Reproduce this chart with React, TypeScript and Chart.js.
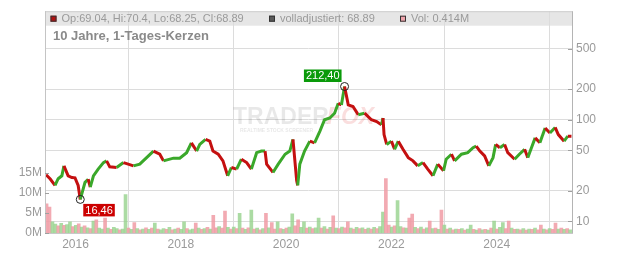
import { useEffect, useRef } from 'react';
import { Chart, registerables } from 'chart.js';
Chart.register(...registerables);

const FONT = "'Liberation Sans', Arial, sans-serif";

// Price (daily close, read at irregular dates, decimal years)
const priceDates = [
  2015.44, 2015.52, 2015.61, 2015.67, 2015.74, 2015.78, 2015.86, 2015.93, 2015.99, 2016.05,
  2016.09, 2016.18, 2016.24, 2016.28, 2016.34, 2016.43, 2016.53, 2016.59, 2016.65, 2016.78,
  2016.91, 2017.0, 2017.1, 2017.22, 2017.35, 2017.48, 2017.6, 2017.67, 2017.86, 2017.98,
  2018.11, 2018.2, 2018.3, 2018.36, 2018.47, 2018.55, 2018.61, 2018.71, 2018.8, 2018.89,
  2018.96, 2019.06, 2019.15, 2019.25, 2019.34, 2019.44, 2019.53, 2019.6, 2019.63, 2019.75,
  2019.85, 2019.98, 2020.07, 2020.13, 2020.2, 2020.22, 2020.26, 2020.35, 2020.45, 2020.54,
  2020.64, 2020.73, 2020.83, 2020.92, 2020.99, 2021.05, 2021.11, 2021.18, 2021.27, 2021.37,
  2021.49, 2021.62, 2021.72, 2021.81, 2021.84, 2021.86, 2021.91, 2022.0, 2022.06, 2022.13,
  2022.22, 2022.32, 2022.41, 2022.5, 2022.6, 2022.69, 2022.79, 2022.88, 2022.99, 2023.04,
  2023.14, 2023.2, 2023.33, 2023.45, 2023.55, 2023.61, 2023.68, 2023.77, 2023.85, 2023.93,
  2023.98, 2024.06, 2024.15, 2024.21, 2024.34, 2024.43, 2024.53, 2024.59, 2024.66, 2024.73,
  2024.82, 2024.92, 2025.01, 2025.11, 2025.17, 2025.28, 2025.35, 2025.42,
];
const closes = [
  28.8, 26.1, 22.6, 26.3, 28.1, 35.2, 28.1, 27.0, 26.8, 22.6,
  16.46, 24.2, 26.0, 21.7, 28.1, 32.7, 37.9, 39.4, 34.4, 33.9,
  37.9, 36.6, 35.2, 36.6, 42.4, 49.2, 45.8, 39.4, 41.9, 41.9,
  47.4, 59.3, 49.2, 57.2, 64.0, 61.6, 49.2, 45.8, 39.4, 28.1,
  33.9, 32.7, 40.9, 37.9, 32.7, 47.4, 49.2, 49.2, 36.6, 30.3,
  36.6, 45.8, 49.2, 64.0, 25.2, 22.6, 36.6, 49.2, 61.6, 59.3,
  77.0, 100, 104, 116, 145, 140, 212.4, 140, 135, 112,
  116, 100, 96, 89, 104, 71.5, 57.2, 61.6, 51.2, 61.6,
  51.2, 42.4, 39.4, 35.2, 37.9, 32.7, 28.1, 36.6, 31.5, 40.9,
  45.8, 39.4, 45.8, 47.4, 53.0, 55.0, 49.2, 44.1, 35.2, 42.4,
  57.2, 53.0, 57.2, 47.4, 40.9, 45.8, 51.2, 42.4, 53.0, 66.3,
  59.3, 82.8, 74.0, 84.0, 71.5, 61.6, 68.9, 68.89,
];

// Volume in millions, sampled every 1/18 year from mid-2015
const volStart = 2015.45;
const volStep = 1 / 18;
const volumes = [
  7.3, 6.5, 2.8, 2.2, 1.8, 2.4, 1.9, 2.1, 2.8, 1.6,
  1.9, 2.3, 1.5, 1.8, 1.3, 1.1, 3.0, 3.3, 1.2, 1.0,
  3.7, 1.2, 0.9, 1.4, 1.1, 0.8, 1.0, 9.6, 1.2, 0.9,
  2.6, 1.1, 0.8, 1.0, 1.3, 0.9, 1.2, 2.5, 1.0, 0.8,
  1.1, 0.9, 1.4, 0.8, 1.0, 1.2, 0.9, 2.8, 1.1, 0.8,
  1.0, 2.5, 1.2, 0.9, 1.1, 1.4, 1.0, 4.4, 1.3, 1.6,
  1.2, 5.5, 1.4, 1.0, 1.5, 1.1, 4.9, 1.2, 0.9, 1.3,
  5.7, 1.0, 1.2, 0.8, 1.1, 4.9, 1.3, 2.6, 1.0, 2.8,
  1.1, 0.9, 1.2, 1.5, 4.8, 1.8, 3.3, 1.4, 2.8, 1.2,
  1.5, 1.1, 1.3, 3.7, 1.2, 1.6, 1.0, 1.4, 4.3, 1.2,
  1.1, 1.5, 1.3, 2.8, 1.2, 1.0, 1.4, 1.1, 1.3, 0.9,
  1.2, 1.0, 1.4, 1.1, 1.6, 5.2, 13.6, 2.0, 1.5, 1.8,
  8.1, 1.6, 1.3, 1.2, 3.7, 4.7, 1.4, 1.1, 1.5, 1.0,
  1.3, 3.0, 1.1, 1.2, 0.9, 5.7, 2.0, 1.0, 1.2, 0.8,
  1.0, 0.9, 1.1, 0.7, 1.0, 2.0, 0.9, 0.7, 1.1, 0.8,
  0.9, 0.7, 1.2, 3.0, 1.0, 1.4, 2.6, 1.1, 3.0, 1.2,
  0.9, 1.0, 0.8, 1.1, 0.7, 1.0, 0.9, 1.2, 0.8, 2.0,
  1.0, 0.8, 1.1, 0.9, 2.5, 1.0, 1.2, 0.9, 1.1, 0.8,
];
// u = up day, d = down day (one letter per volume bar)
const volDir = [
  'dduududuud', 'ududududuu', 'duduuduudu', 'dududududu', 'udududuudu',
  'ududududdu', 'ddudududud', 'ududududdu', 'duduudduud', 'uduudududu',
  'duddududud', 'ududuuddud', 'uududdudud', 'ududududud', 'ududuududu',
  'dududuuddu', 'dududududd', 'ududdududu',
].join('');

const xTicks = [2016, 2018, 2020, 2022, 2024];
const priceTicks = [10, 20, 50, 100, 200, 500];
const volTicks = [0, 5, 10, 15];

const headerTexts = ['Op:69.04, Hi:70.4, Lo:68.25, Cl:68.89', 'volladjustiert: 68.89', 'Vol: 0.414M'];
const title = '10 Jahre, 1-Tages-Kerzen';

const UP = '#3aa82a';
const DOWN = '#c41010';

export default function App() {
  const ref = useRef<HTMLCanvasElement>(null);
  useEffect(() => {
    document.body.style.margin = '0';
    const canvas = ref.current!;

    const deco = {
      id: 'deco',
      beforeDraw(chart: any) {
        const { ctx, chartArea: a } = chart;
        ctx.save();
        ctx.fillStyle = '#e6e6e6';
        ctx.fillRect(a.left, a.top, a.right - a.left, 14.5);
        ctx.restore();
      },
      beforeDatasetsDraw(chart: any) {
        const { ctx } = chart;
        ctx.save();
        ctx.font = `bold 23px ${FONT}`;
        ctx.textBaseline = 'alphabetic';
        ctx.fillStyle = 'rgba(0,0,0,0.09)';
        ctx.fillText('TRADER', 233, 124);
        const w = ctx.measureText('TRADER').width;
        ctx.fillStyle = 'rgba(230,70,70,0.18)';
        ctx.font = `bold italic 23px ${FONT}`;
        ctx.fillText('FOX', 233 + w - 2, 124);
        ctx.font = `bold 5px ${FONT}`;
        ctx.fillStyle = 'rgba(0,0,0,0.1)';
        ctx.fillText('REALTIME STOCK SCREENER', 240, 132);
        ctx.restore();
      },
      afterDraw(chart: any) {
        const { ctx, chartArea: a, scales } = chart;
        ctx.save();
        // frame
        ctx.strokeStyle = '#cfcfcf';
        ctx.lineWidth = 1;
        ctx.beginPath();
        ctx.moveTo(a.left, a.top + 0.5);
        ctx.lineTo(a.right, a.top + 0.5);
        ctx.stroke();
        ctx.strokeStyle = '#c4c4c4';
        ctx.beginPath();
        ctx.moveTo(a.left + 0.5, a.top);
        ctx.lineTo(a.left + 0.5, a.bottom);
        ctx.stroke();
        ctx.strokeStyle = '#b4b4b4';
        ctx.beginPath();
        ctx.moveTo(a.right + 0.5, a.top);
        ctx.lineTo(a.right + 0.5, a.bottom);
        ctx.stroke();
        // inward tick marks
        ctx.strokeStyle = '#a0a0a0';
        for (const v of priceTicks) {
          const y = Math.round(scales.y.getPixelForValue(v)) + 0.5;
          ctx.beginPath();
          ctx.moveTo(a.right - 4, y);
          ctx.lineTo(a.right, y);
          ctx.stroke();
        }
        for (const v of volTicks) {
          const y = Math.round(scales.yv.getPixelForValue(v * 1e6)) + 0.5;
          ctx.beginPath();
          ctx.moveTo(a.left, y);
          ctx.lineTo(a.left + 4, y);
          ctx.stroke();
        }
        // header legend
        ctx.font = `11px ${FONT}`;
        ctx.textBaseline = 'middle';
        const hy = a.top + 7.5;
        const items = [
          { x: 50.5, fill: '#b01010', text: headerTexts[0] },
          { x: 269, fill: '#5a5a5a', text: headerTexts[1] },
          { x: 400, fill: '#f0a4ac', text: headerTexts[2] },
        ];
        for (const it of items) {
          ctx.fillStyle = it.fill;
          ctx.fillRect(it.x, hy - 3, 6, 6);
          ctx.strokeStyle = '#333';
          ctx.strokeRect(it.x + 0.5, hy - 2.5, 5, 5);
          ctx.fillStyle = '#9a9a9a';
          ctx.fillText(it.text, it.x + 11, hy + 0.5);
        }
        // title
        ctx.font = `bold 13px ${FONT}`;
        ctx.fillStyle = '#8a8a8a';
        ctx.fillText(title, 53, a.top + 25.5);

        // extreme markers
        let iMax = 0;
        let iMin = 0;
        closes.forEach((c, i) => {
          if (c > closes[iMax]) iMax = i;
          if (c < closes[iMin]) iMin = i;
        });
        const mark = (i: number, fill: string, above: boolean) => {
          const cx = scales.x.getPixelForValue(priceDates[i]);
          const cy = scales.y.getPixelForValue(closes[i]);
          ctx.strokeStyle = '#222';
          ctx.lineWidth = 1;
          ctx.beginPath();
          ctx.arc(cx, cy, 4, 0, Math.PI * 2);
          ctx.stroke();
          const label = closes[i].toFixed(2).replace('.', ',');
          ctx.font = `11px ${FONT}`;
          const tw = ctx.measureText(label).width;
          const bw = tw + 4;
          const bh = 12.5;
          const bx = above ? cx - 3 - bw : cx + 3;
          const by = above ? cy - 4.5 - bh : cy + 4.5;
          ctx.fillStyle = fill;
          ctx.fillRect(bx, by, bw, bh);
          ctx.fillStyle = '#fff';
          ctx.textBaseline = 'middle';
          ctx.fillText(label, bx + 2, by + bh / 2 + 0.5);
        };
        mark(iMax, '#0a9a0a', true);
        mark(iMin, '#cc0000', false);
        ctx.restore();
      },
    };

    const volData = volumes.map((v, i) => ({ x: volStart + i * volStep, y: v * 1e6 }));
    const volColors = volumes.map((_, i) => (volDir[i] === 'u' ? 'rgba(150,210,140,0.8)' : 'rgba(240,155,165,0.85)'));

    const chart = new Chart(canvas, {
      type: 'bar',
      data: {
        datasets: [
          {
            type: 'bar',
            data: volData as any,
            yAxisID: 'yv',
            xAxisID: 'x',
            backgroundColor: volColors,
            barThickness: 3,
            grouped: false,
            order: 3,
          },
          {
            type: 'line',
            data: priceDates.map((x, i) => ({ x, y: closes[i] })) as any,
            yAxisID: 'y',
            xAxisID: 'x',
            borderWidth: 3,
            pointRadius: 0,
            tension: 0,
            borderColor: UP,
            segment: {
              borderColor: (c: any) => (c.p1.parsed.y >= c.p0.parsed.y ? UP : DOWN),
            },
            order: 1,
          } as any,
        ],
      },
      options: {
        animation: false,
        responsive: true,
        maintainAspectRatio: false,
        layout: { padding: { top: 8, left: 0, right: 0, bottom: 0 } },
        plugins: { legend: { display: false }, tooltip: { enabled: false } },
        scales: {
          x: {
            type: 'linear',
            position: 'bottom',
            min: 2015.42,
            max: 2025.43,
            bounds: 'data',
            offset: false,
            grid: { color: '#dcdcdc', drawTicks: false },
            border: { display: true, color: '#c8c8c8' },
            ticks: {
              color: '#9a9a9a',
              font: { family: FONT, size: 12 },
              padding: 4,
              autoSkip: false,
              maxRotation: 0,
              callback: (v: any) => String(v),
            },
            afterBuildTicks: (s: any) => {
              s.ticks = xTicks.map((value) => ({ value }));
            },
            afterFit: (s: any) => {
              s.height = 20;
            },
          },
          y: {
            type: 'logarithmic',
            position: 'right',
            min: 7.69,
            max: 1169,
            bounds: 'data',
            grid: { color: '#dcdcdc', drawTicks: false },
            border: { display: false },
            ticks: {
              color: '#9a9a9a',
              font: { family: FONT, size: 12 },
              padding: 4,
              autoSkip: false,
              callback: (v: any) => String(v),
            },
            afterBuildTicks: (s: any) => {
              s.ticks = priceTicks.map((value) => ({ value }));
            },
            afterFit: (s: any) => {
              s.width = 60;
            },
          },
          yv: {
            type: 'linear',
            position: 'left',
            min: 0,
            max: 55.4e6,
            bounds: 'data',
            grid: { display: false, drawTicks: false },
            border: { display: false },
            ticks: {
              color: '#9a9a9a',
              font: { family: FONT, size: 12 },
              padding: 3,
              autoSkip: false,
              callback: (v: any) => `${Math.round(v / 1e6)}M`,
            },
            afterBuildTicks: (s: any) => {
              s.ticks = volTicks.map((v) => ({ value: v * 1e6 }));
            },
            afterFit: (s: any) => {
              s.width = 45;
            },
          },
        },
      },
      plugins: [deco],
    } as any);
    return () => chart.destroy();
  }, []);
  return (
    <div style={{ width: 632, height: 253, position: 'relative' }}>
      <canvas ref={ref} />
    </div>
  );
}
